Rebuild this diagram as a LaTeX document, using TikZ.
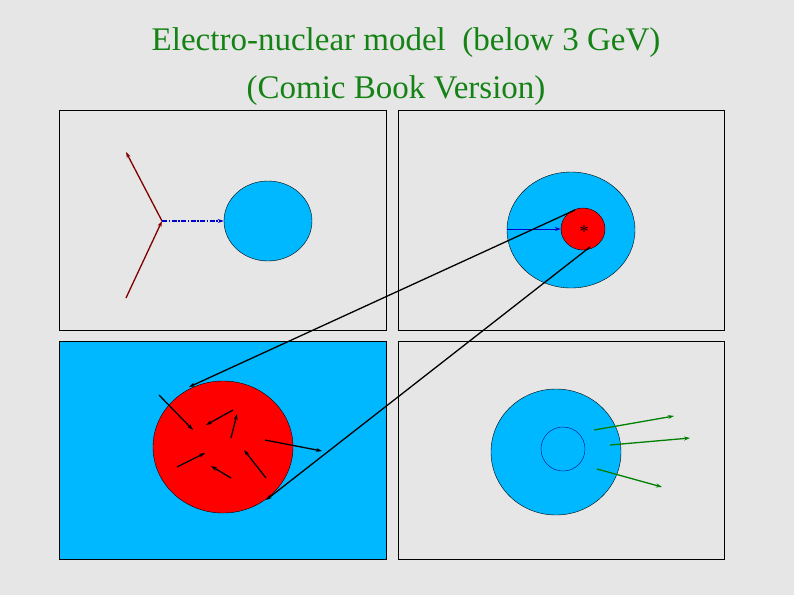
\documentclass[tikz,border=0pt]{standalone}
\usepackage{fontspec}
\setmainfont{Liberation Serif}
\usetikzlibrary{arrows.meta,shapes.geometric}
\begin{document}
\begin{tikzpicture}[x=1pt,y=-1pt,
  panel/.style={draw=black,line width=0.8pt,fill=bgray},
  arr/.style={-{Stealth[length=6pt,width=4pt]},line width=1.3pt},
  ttl/.style={text=tgreen,font=\fontsize{33}{38}\selectfont,inner sep=0pt}]
\definecolor{bgray}{RGB}{230,230,230}
\definecolor{cyanb}{RGB}{0,184,255}
\definecolor{tgreen}{RGB}{20,130,20}
\definecolor{dred}{RGB}{128,0,0}
\definecolor{gr}{RGB}{0,128,0}
\fill[bgray] (0,0) rectangle (794,595);
\useasboundingbox (0,0) rectangle (794,595);
\node[ttl] (t1) at (406,43) {Electro-nuclear model\ \ (below 3 GeV)};
\node[ttl] (t2) at (396,91) {(Comic Book Version)};
% panels
\draw[panel] (59,110) rectangle (386,330);
\draw[panel] (398,110) rectangle (724,330);
\draw[draw=black,line width=0.8pt,fill=cyanb] (59,341) rectangle (386,559);
\draw[panel] (398,341) rectangle (724,559);
% TL
\coordinate (v) at (162,221);
\coordinate (up) at (126,152);
\coordinate (lo) at (126,298);
\draw[arr,dred] (v) -- (up);
\draw[arr,dred] (lo) -- (v);
\node[draw=black,fill=cyanb,ellipse,minimum width=88pt,minimum height=80pt,inner sep=0pt] (n1) at (268,221) {};
\draw[arr,blue!80!black,dash pattern=on 5pt off 1.5pt on 1.5pt off 1.5pt] (v) -- (n1.west);
% TR
\node[draw=black,fill=cyanb,ellipse,minimum width=128pt,minimum height=116pt,inner sep=0pt] (n2) at (571,230) {};
\node[draw=black,fill=red,ellipse,minimum width=44pt,minimum height=42pt,inner sep=0pt] (r2) at (583,229) {};
\node[font=\fontsize{18}{18}\selectfont,inner sep=0pt] (ast) at (584,232) {*};
\draw[arr,blue!80!black,line width=1pt] (n2.west |- r2.west) -- (r2.west);
% BL
\node[draw=black,fill=red,ellipse,minimum width=140pt,minimum height=132pt,inner sep=0pt] (r3) at (223,447) {};
\coordinate (a1) at (159,395); \coordinate (b1) at (193,430);
\coordinate (a2) at (233,410); \coordinate (b2) at (206,425);
\coordinate (a3) at (231,438); \coordinate (b3) at (237,414);
\coordinate (a4) at (177,467); \coordinate (b4) at (205,453);
\coordinate (a5) at (231,478); \coordinate (b5) at (211,466);
\coordinate (a6) at (266,478); \coordinate (b6) at (244,450);
\coordinate (a7) at (265,440); \coordinate (b7) at (322,451);
\foreach \i in {1,...,7} \draw[arr,black] (a\i) -- (b\i);
% connectors
\coordinate (c1) at (575,210); \coordinate (d1) at (189,387);
\coordinate (c2) at (590,247); \coordinate (d2) at (266,500);
\draw[arr,black] (c1) -- (d1);
\draw[arr,black] (c2) -- (d2);
% BR
\node[draw=black,fill=cyanb,ellipse,minimum width=130pt,minimum height=126pt,inner sep=0pt] (n4) at (556,452) {};
\node[draw=blue!60!black,line width=0.4pt,circle,minimum size=44pt,inner sep=0pt] (i4) at (563,449) {};
\coordinate (g1) at (594,430); \coordinate (h1) at (674,416);
\coordinate (g2) at (610,445); \coordinate (h2) at (690,438);
\coordinate (g3) at (597,469); \coordinate (h3) at (662,487);
\foreach \i in {1,2,3} \draw[arr,gr] (g\i) -- (h\i);
\end{tikzpicture}
\end{document}
